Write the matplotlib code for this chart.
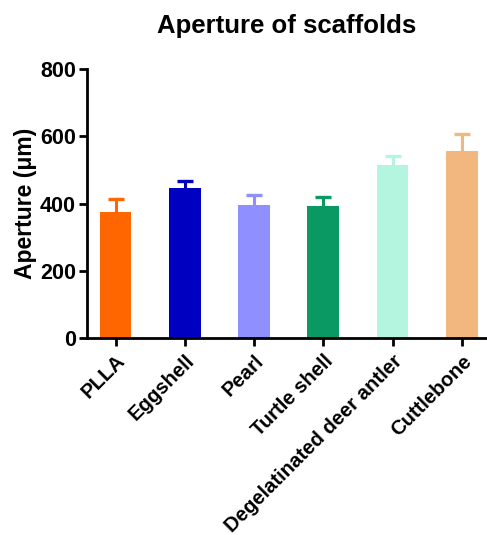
import matplotlib.pyplot as plt
import numpy as np

plt.rcParams['font.family'] = ['Liberation Sans', 'DejaVu Sans']
plt.rcParams['font.weight'] = 'bold'

# data
categories = ["PLLA", "Eggshell", "Pearl", "Turtle shell", "Degelatinated deer antler", "Cuttlebone"]
means = [375, 445, 395, 392, 515, 555]
errors = [40, 23, 30, 28, 25, 53]
colors = ["#FF6600", "#0000C0", "#8F8FFF", "#0A9963", "#B3F5DE", "#F2B77E"]

fig = plt.figure(figsize=(4.87, 5.35), dpi=100)
ax = fig.add_axes([0.179, 0.368, 0.819, 0.503])

x = np.arange(len(categories))
ax.bar(x, means, width=0.46, color=colors, zorder=2)
# upper error bars only
tops = np.array(means) + np.array(errors)
ax.vlines(x, means, tops, colors=colors, linewidth=2.2, zorder=1)
ax.hlines(tops, x - 0.115, x + 0.115, colors=colors, linewidth=2.4, zorder=1)

ax.set_xlim(-0.41, 5.35)
ax.set_ylim(0, 800)
ax.set_yticks([0, 200, 400, 600, 800])
ax.set_xticks(x)
ax.set_xticklabels(categories, rotation=45, ha='right', rotation_mode='anchor',
                   fontsize=14.6, fontweight='bold')
ax.tick_params(axis='y', labelsize=15.5, width=2, length=6, pad=2)
ax.tick_params(axis='x', width=2, length=6)
for lbl in ax.get_yticklabels():
    lbl.set_fontweight('bold')

ax.spines['top'].set_visible(False)
ax.spines['right'].set_visible(False)
ax.spines['left'].set_linewidth(2)
ax.spines['bottom'].set_linewidth(2)

ax.set_ylabel("Aperture (μm)", fontsize=16.5, fontweight='bold', labelpad=2)
ax.set_title("Aperture of scaffolds", fontsize=18.5, fontweight='bold', pad=26)

fig.savefig("out.png", dpi=100)
